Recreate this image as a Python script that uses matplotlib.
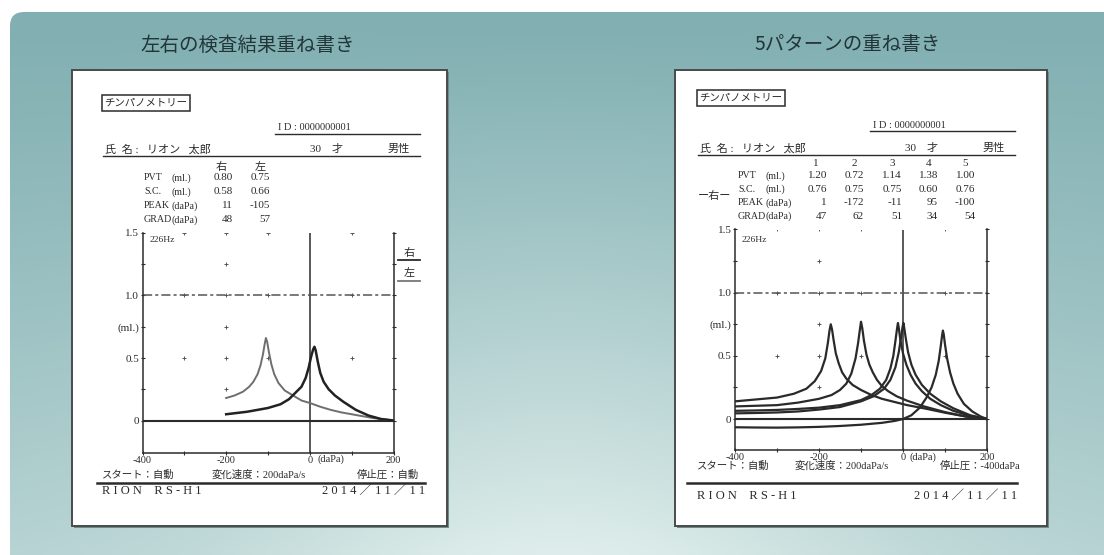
import numpy as np
import matplotlib
matplotlib.use('Agg')
import matplotlib.pyplot as plt
from matplotlib import patches

W, H = 1104, 555
SERIF = ['Liberation Serif', 'Noto Sans CJK JP']
JP = ['Noto Sans CJK JP', 'DejaVu Sans']
INK = '#2b2b2b'

titles = ['左右の検査結果重ね書き', '5パターンの重ね書き']
row_names = ['PVT', 'S.C.', 'PEAK', 'GRAD']
row_units = ['(ml.)', '(ml.)', '(daPa)', '(daPa)']

left_cols = ['右', '左']
left_vals = [['0.80', '0.75'], ['0.58', '0.66'], ['11', '-105'], ['48', '57']]
right_cols = ['1', '2', '3', '4', '5']
right_vals = [['1.20', '0.72', '1.14', '1.38', '1.00'],
              ['0.76', '0.75', '0.75', '0.60', '0.76'],
              ['1', '-172', '-11', '95', '-100'],
              ['47', '62', '51', '34', '54']]

x_ticks = [-400, -300, -200, -100, 0, 100, 200]
x_labels = ['-400', '', '-200', '', '0', '', '200']
y_ticks = [0, 0.25, 0.5, 0.75, 1.0, 1.25, 1.5]
y_labels = ['0', '', '0.5', '(ml.)', '1.0', '', '1.5']
dot_x = [-300, -200, -100, 100]
dot_y = [0.5, 1.0, 1.5]
dot_col_y = [0.25, 0.75, 1.25]

# left card: right ear (peak 11) and left ear (peak -105)
ear_r_x = [-200, -150, -100, -70, -50, -35, -20, -10, -3, 3, 8, 11, 14, 19, 25, 33,
           45, 60, 80, 110, 140, 170, 200]
ear_r_y = [0.05, 0.07, 0.10, 0.13, 0.17, 0.22, 0.27, 0.34, 0.42, 0.51, 0.57, 0.59,
           0.56, 0.47, 0.38, 0.31, 0.25, 0.20, 0.15, 0.085, 0.04, 0.012, 0.0]
ear_l_x = [-200, -180, -160, -145, -135, -125, -118, -112, -108, -105, -102, -98,
           -92, -85, -75, -60, -40, -20, 0, 25, 50, 75, 100, 125, 150, 175, 200]
ear_l_y = [0.18, 0.20, 0.23, 0.27, 0.31, 0.37, 0.44, 0.53, 0.61, 0.66, 0.63, 0.55,
           0.45, 0.37, 0.30, 0.24, 0.20, 0.16, 0.14, 0.11, 0.085, 0.065, 0.05, 0.035,
           0.02, 0.01, 0.0]

# right card: five runs of the right ear
run1_x = [-400, -350, -300, -250, -200, -150, -100, -70, -45, -30, -18, -10, -4, -1,
          1, 3, 7, 12, 20, 30, 45, 65, 90, 120, 160, 200]
run1_y = [0.045, 0.048, 0.052, 0.06, 0.075, 0.095, 0.14, 0.18, 0.24, 0.31, 0.41,
          0.53, 0.66, 0.73, 0.76, 0.72, 0.63, 0.53, 0.43, 0.35, 0.27, 0.20, 0.14,
          0.085, 0.03, 0.0]
run2_x = [-400, -350, -300, -260, -230, -210, -195, -185, -179, -175, -172, -169,
          -165, -160, -153, -145, -135, -120, -100, -75, -50, -20, 10, 50, 100, 150, 200]
run2_y = [0.14, 0.155, 0.17, 0.20, 0.24, 0.30, 0.38, 0.48, 0.60, 0.70, 0.75, 0.71,
          0.62, 0.52, 0.44, 0.37, 0.32, 0.27, 0.23, 0.19, 0.16, 0.135, 0.11, 0.085,
          0.05, 0.02, 0.0]
run3_x = [-400, -350, -300, -250, -200, -150, -100, -75, -55, -40, -30, -23, -18,
          -14, -12, -10, -6, 0, 8, 18, 30, 45, 65, 90, 120, 160, 200]
run3_y = [0.065, 0.068, 0.072, 0.08, 0.09, 0.11, 0.15, 0.19, 0.24, 0.31, 0.40, 0.50,
          0.62, 0.72, 0.76, 0.72, 0.62, 0.52, 0.43, 0.35, 0.28, 0.22, 0.16, 0.11,
          0.065, 0.025, 0.0]
run4_x = [-400, -350, -300, -250, -200, -150, -100, -50, -20, 0, 20, 40, 56, 68, 78,
          85, 90, 93, 95, 97, 100, 105, 112, 120, 130, 145, 165, 185, 200]
run4_y = [-0.065, -0.067, -0.068, -0.066, -0.062, -0.055, -0.045, -0.03, -0.015, 0.0,
          0.03, 0.09, 0.17, 0.25, 0.35, 0.46, 0.58, 0.66, 0.70, 0.67, 0.59, 0.48,
          0.37, 0.28, 0.20, 0.12, 0.06, 0.02, 0.0]
run5_x = [-400, -350, -300, -250, -200, -170, -150, -135, -123, -113, -107, -103,
          -100, -97, -93, -87, -80, -72, -62, -50, -35, -15, 10, 50, 100, 150, 200]
run5_y = [0.10, 0.105, 0.11, 0.13, 0.16, 0.19, 0.23, 0.28, 0.36, 0.48, 0.60, 0.70,
          0.77, 0.72, 0.62, 0.51, 0.43, 0.37, 0.31, 0.26, 0.22, 0.18, 0.145, 0.10,
          0.055, 0.02, 0.0]
runs = [(run1_x, run1_y), (run2_x, run2_y), (run3_x, run3_y),
        (run4_x, run4_y), (run5_x, run5_y)]


fig = plt.figure(figsize=(W / 100, H / 100), dpi=100)
bg = fig.add_axes([0, 0, 1, 1])
bg.set_xlim(0, W)
bg.set_ylim(H, 0)
bg.axis('off')

# teal panel with soft light gradient towards the bottom centre
yy, xx = np.mgrid[0:H, 0:W]
t = np.clip((yy - 30) / 520, 0, 1) ** 1.1
w = t * (0.55 + 0.45 * np.exp(-((xx - 560) / 330) ** 2))
c1 = np.array([0.51, 0.69, 0.70])
c2 = np.array([0.87, 0.93, 0.92])
img = c1 * (1 - w[..., None]) + c2 * w[..., None]
panel = patches.FancyBboxPatch((10, 12), 1200, 600, boxstyle='round,pad=0,rounding_size=14',
                               fc='none', ec='none')
bg.add_patch(panel)
im = bg.imshow(img, extent=(0, W, H, 0), aspect='auto', zorder=0)
im.set_clip_path(panel)

for cx, ttl in zip([248, 848], titles):
    bg.text(cx, 45, ttl, family=JP, fontsize=14, color='#22363a', ha='center', va='center')

for x0, x1 in [(72, 447), (675, 1047)]:
    bg.add_patch(patches.Rectangle((x0 + 2, 72), x1 - x0, 456, fc='#6f8c8c', ec='none', zorder=1))
    bg.add_patch(patches.Rectangle((x0, 70), x1 - x0, 456, fc='white', ec='#4a4a4a', lw=1.4, zorder=2))


def txt(x, y, s, size=8, ha='left', **kw):
    bg.text(x, y, s, family=SERIF, fontsize=size, color=INK, ha=ha, va='center', zorder=5, **kw)


def rule(x0, x1, y, lw=1.0):
    bg.plot([x0, x1], [y, y], color=INK, lw=lw, zorder=5)


def header(dx, id_y, name_y):
    bg.text(146 + dx, 103 - (5 if dx else 0), 'チンパノメトリー', family=JP, fontsize=7.5, color=INK,
            ha='center', va='center', zorder=5,
            bbox=dict(boxstyle='square,pad=0.25', fc='white', ec=INK, lw=1.1))
    txt(278 + dx, id_y, 'I D : 0000000001', size=7.5)
    rule(275 + dx, 420 + dx, id_y + 6)
    txt(105 + dx, name_y, '氏  名 :   リオン   太郎', size=8)
    txt(310 + dx, name_y, '30    才', size=8)
    txt(388 + dx, name_y, '男性', size=8)
    rule(103 + dx, 420 + dx, name_y + 7)


# left card text
header(0, 128, 149)
for cx, lab in zip([221, 260], left_cols):
    txt(cx, 167, lab, size=8, ha='center')
for i in range(4):
    y = 178 + i * 14
    txt(144, y, row_names[i], size=7.2)
    txt(172, y, row_units[i], size=7.2)
    for ex, v in zip([233, 270], left_vals[i]):
        txt(ex, y, v, size=8, ha='right')
txt(409, 253, '右', size=8, ha='center')
rule(398, 420, 260, lw=1.3)
txt(409, 273, '左', size=8, ha='center')
bg.plot([398, 420], [281, 281], color='#777777', lw=1.3, zorder=5)
txt(150, 240, '226Hz', size=6.8)
txt(317, 459, '(daPa)', size=7.5)
txt(102, 475, 'スタート：自動', size=7.5)
txt(212, 475, '変化速度：200daPa/s', size=7.5)
txt(357, 475, '停止圧：自動', size=7.5)
rule(97, 425, 483, lw=1.8)
txt(102, 491, 'R I O N    R S - H 1', size=9)
txt(425, 491, '2 0 1 4 ／ 1 1 ／ 1 1', size=9, ha='right')

# right card text
header(595, 125, 148)
for cx, lab in zip([816, 854, 892, 929, 965], right_cols):
    txt(cx, 163, lab, size=8, ha='center')
for i in range(4):
    y = 176 + i * 13.4
    txt(738, y, row_names[i], size=7.2)
    txt(766, y, row_units[i], size=7.2)
    for ex, v in zip([827, 864, 902, 938, 975], right_vals[i]):
        txt(ex, y, v, size=8, ha='right')
txt(715, 196, 'ー右ー', size=8, ha='center')
txt(742, 240, '226Hz', size=6.8)
txt(910, 457, '(daPa)', size=7.5)
txt(697, 466, 'スタート：自動', size=7.5)
txt(795, 466, '変化速度：200daPa/s', size=7.5)
txt(940, 466, '停止圧：-400daPa', size=7.5)
rule(687, 1017, 483, lw=1.8)
txt(697, 496, 'R I O N    R S - H 1', size=9)
txt(1017, 496, '2 0 1 4 ／ 1 1 ／ 1 1', size=9, ha='right')


def tympano(px0, px1, py_top, py_bot, ymin):
    ax = fig.add_axes([px0 / W, 1 - py_bot / H, (px1 - px0) / W, (py_bot - py_top) / H])
    ax.set_facecolor('none')
    ax.set_xlim(-400, 200)
    ax.set_ylim(ymin, 1.5)
    ax.spines['top'].set_visible(False)
    for s in ['left', 'right', 'bottom']:
        ax.spines[s].set_color(INK)
        ax.spines[s].set_linewidth(1.1)
    ax.set_xticks(x_ticks)
    ax.set_xticklabels(x_labels, family=SERIF, fontsize=7.5, color=INK)
    ax.set_yticks(y_ticks)
    ax.set_yticklabels(y_labels, family=SERIF, fontsize=8, color=INK)
    ax.tick_params(direction='inout', length=3, width=0.8, color=INK, pad=1, right=True)
    ax.axhline(0, color=INK, lw=1.5)
    ax.axvline(0, color=INK, lw=1.1)
    ax.axhline(1.0, color='#555555', lw=1.1, ls=(0, (6, 2, 2, 2)))
    gx, gy = np.meshgrid(dot_x, dot_y)
    ax.scatter(gx.ravel(), gy.ravel(), marker='+', s=6, lw=0.7, color='#555555')
    ax.scatter([-200] * len(dot_col_y), dot_col_y, marker='+', s=6, lw=0.7, color='#555555')
    return ax


ax_l = tympano(142.5, 393.5, 233, 453, -0.26)
ax_l.plot(ear_l_x, ear_l_y, color='#6e6e6e', lw=1.4)
ax_l.plot(ear_r_x, ear_r_y, color='#222222', lw=1.8)

ax_r = tympano(735, 987, 229.5, 450, -0.245)
for rx, ry in runs:
    ax_r.plot(rx, ry, color='#2a2a2a', lw=1.6)

fig.savefig('out.png', dpi=100)
